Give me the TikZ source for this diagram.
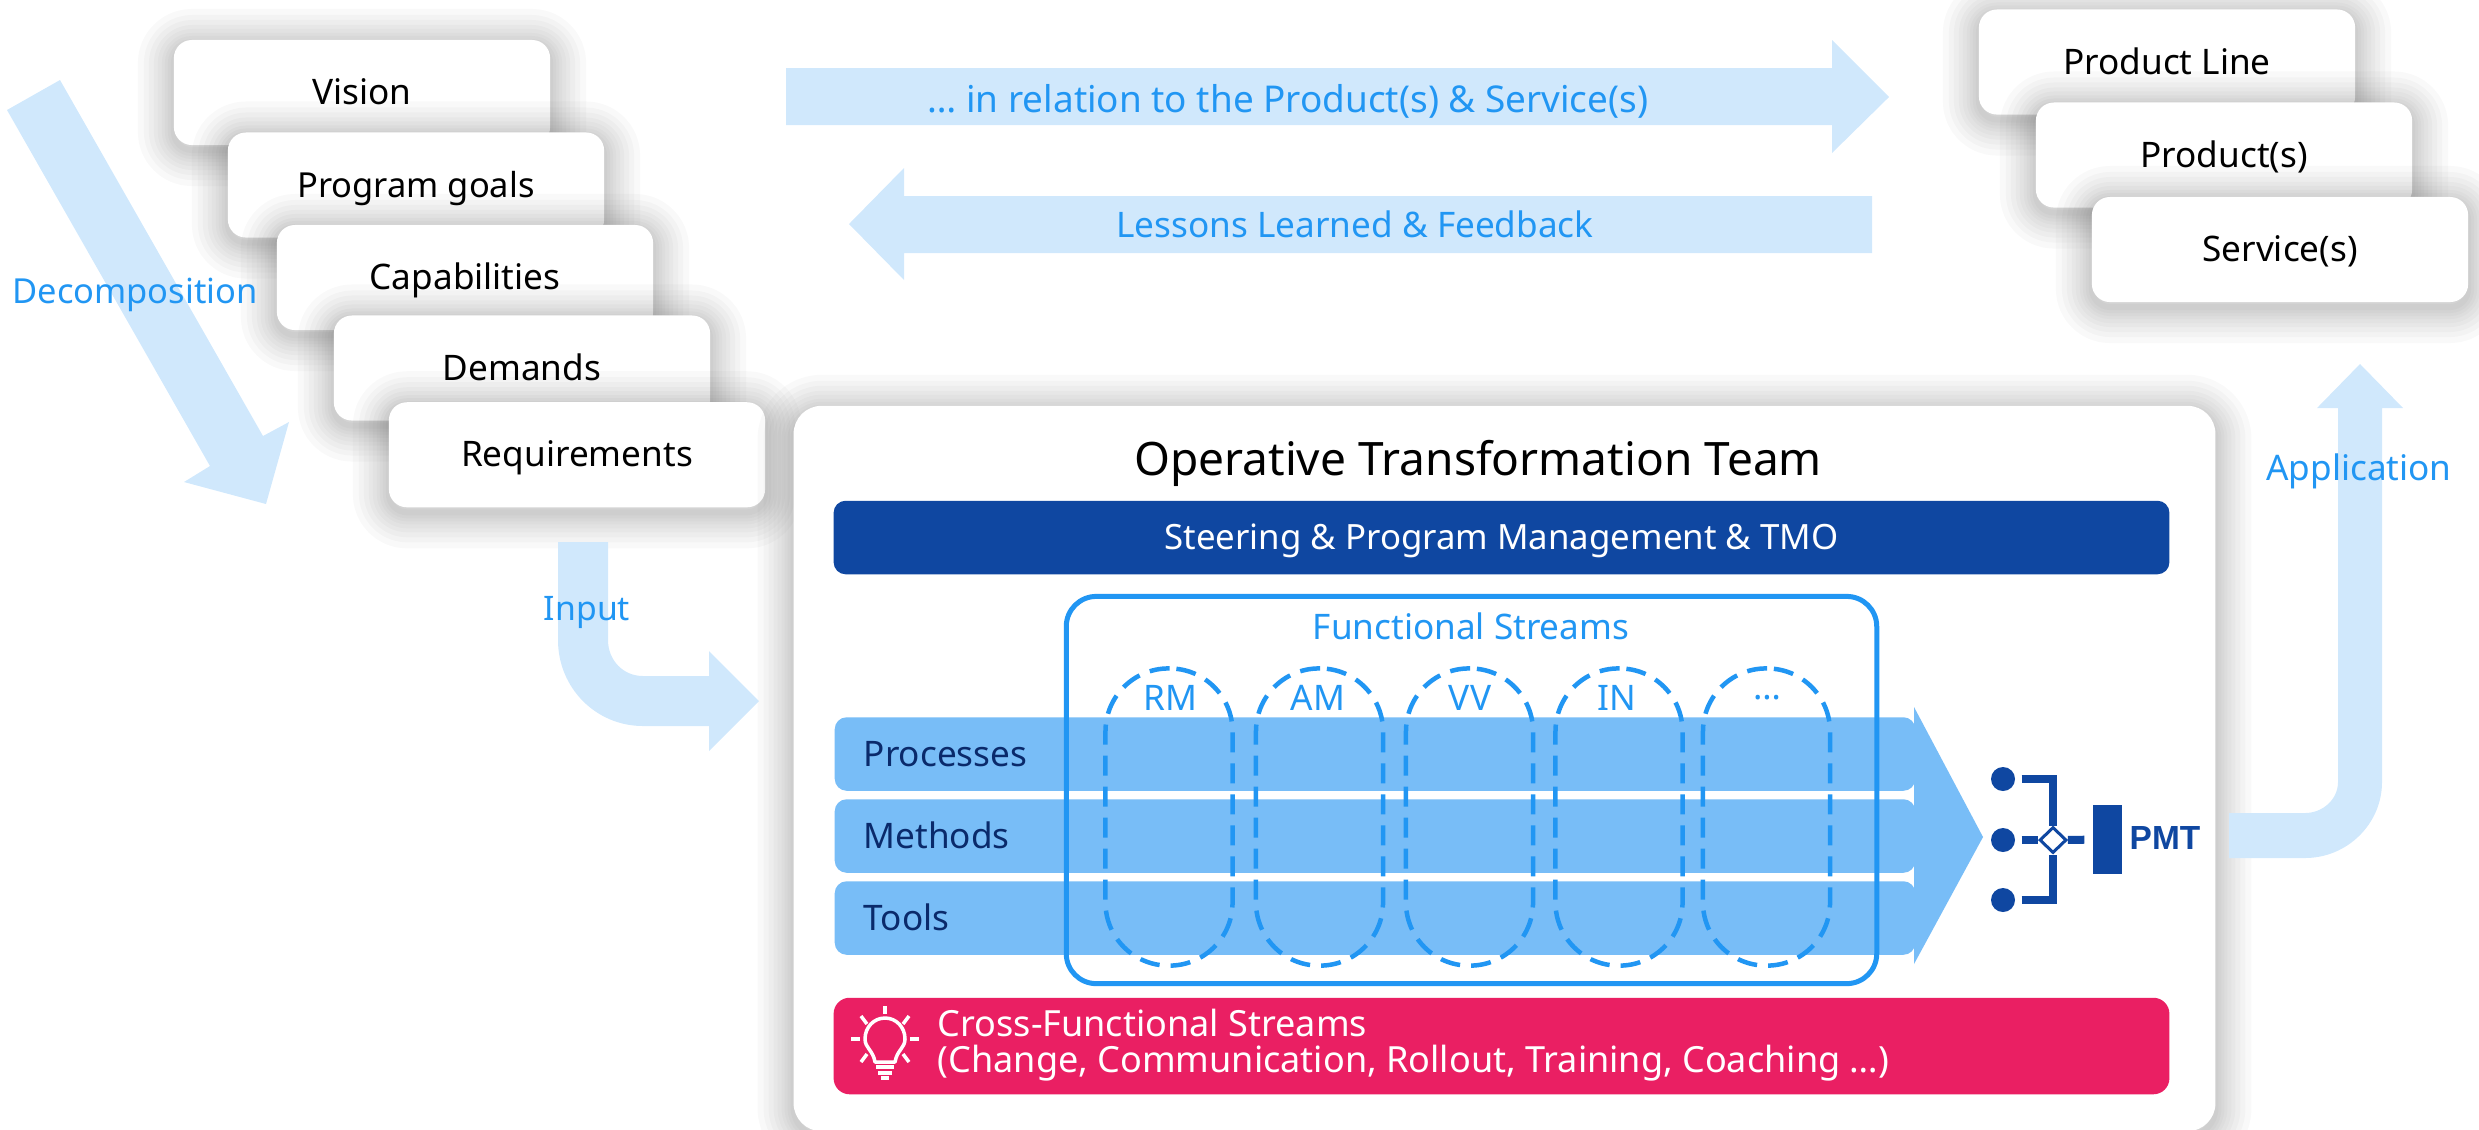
\documentclass[tikz,border=0pt]{standalone}
\usepackage{fontspec}
\setmainfont{Noto Sans}
\newfontfamily\pmtfont{Liberation Sans}
\usetikzlibrary{positioning,shapes.geometric}
\definecolor{arrowblue}{HTML}{D0E8FC}
\definecolor{bandblue}{HTML}{78BDF7}
\definecolor{linkblue}{HTML}{2196F3}
\definecolor{navyblue}{HTML}{0F47A1}
\definecolor{darkblue}{HTML}{0A2A6B}
\definecolor{signalpink}{HTML}{EA1F63}
\begin{document}
\begin{tikzpicture}[x=0.01cm,y=-0.01cm,
  shadowlayer/.style={preaction={draw=black,draw opacity=0.025,line width=#1,line join=round,transform canvas={yshift=-0.05cm}}},
  softbox/.style={shadowlayer=0.72cm,shadowlayer=0.60cm,shadowlayer=0.50cm,shadowlayer=0.40cm,shadowlayer=0.32cm,shadowlayer=0.24cm,shadowlayer=0.18cm,shadowlayer=0.12cm,shadowlayer=0.06cm},
  stackbox/.style={softbox,fill=white,rounded corners=0.18cm,minimum width=3.76cm,minimum height=1.05cm,inner sep=0pt,text height=0.24cm,text depth=0pt,font=\fontsize{10}{12}\selectfont},
  bigarrow/.style={fill=arrowblue},
  arrowtext/.style={text=linkblue,inner sep=0pt,font=\fontsize{10}{12}\selectfont},
  band/.style={fill=bandblue,rounded corners=0.12cm,minimum width=10.80cm,minimum height=0.735cm,inner xsep=0.29cm,inner ysep=0pt,text width=10.22cm,text height=0.24cm,text depth=0pt,text=darkblue,anchor=west,font=\fontsize{10}{12}\selectfont},
  streamoval/.style={draw=linkblue,line width=0.045cm,dash pattern=on 0.2cm off 0.11cm,rounded corners=0.63cm,minimum width=1.27cm,minimum height=2.97cm,inner sep=0pt},
  streamtext/.style={text=linkblue,inner sep=0pt,font=\fontsize{10}{12}\selectfont},
  pmtdot/.style={circle,fill=navyblue,minimum size=0.24cm,inner sep=0pt},
  pmtline/.style={draw=navyblue,line width=0.08cm},
  lampline/.style={draw=white,line width=0.035cm}]
  \useasboundingbox (0,0) rectangle (2479,1129);

  \node[stackbox] (vision) at (362,92.5) {Vision};
  \node[stackbox,font=\fontsize{9.8}{12}\selectfont] (goals) at (416,185) {Program goals};
  \node[stackbox] (capabilities) at (465,277.5) {Capabilities};
  \node[stackbox] (demands) at (522,368) {Demands};
  \node[stackbox] (requirements) at (577,454.75) {Requirements};

  \node[stackbox] (line) at (2167,62) {Product Line};
  \node[stackbox] (product) at (2224,155) {Product(s)};
  \node[stackbox] (service) at (2280,249.5) {Service(s)};

  \node[softbox,fill=white,rounded corners=0.28cm,minimum width=14.21cm,minimum height=7.25cm,inner sep=0pt] (panel) at (1504.5,768.5) {};

  \fill[bigarrow] (60,80) -- (263,436) -- (289,422) -- (266,504) -- (184,482) -- (210,466) -- (7,110) -- cycle;
  \fill[bigarrow] (786,68) -- (1832,68) -- (1832,40) -- (1889,97) -- (1832,153) -- (1832,125) -- (786,125) -- cycle;
  \fill[bigarrow] (1872,196) -- (904,196) -- (904,168) -- (849,224) -- (904,280) -- (904,253) -- (1872,253) -- cycle;
  \fill[bigarrow] (558,542) -- (608,542) -- (608,640) .. controls (608,660) and (623,676) .. (643,676) -- (709,676) -- (709,651) -- (759,701) -- (709,751) -- (709,726) -- (643,726) .. controls (596,726) and (558,688) .. (558,640) -- cycle;
  \fill[bigarrow] (2229,813) -- (2305,813) .. controls (2323,813) and (2338,799) .. (2338,782) -- (2338,408) -- (2317,408) -- (2360,364) -- (2403,408) -- (2382,408) -- (2382,782) .. controls (2382,824) and (2347,858) .. (2305,858) -- (2229,858) -- cycle;

  \node[arrowtext,font=\fontsize{9.8}{12}\selectfont] (decomposition) at (135,295) {Decomposition};
  \node[arrowtext,font=\fontsize{9.6}{12}\selectfont] (input) at (587,612) {Input};
  \node[arrowtext] (application) at (2359,471) {Application};
  \node[arrowtext,font=\fontsize{10.5}{12}\selectfont] (relation) at (1288,101) {… in relation to the Product(s) \& Service(s)};
  \node[arrowtext] (lessons) at (1355,224) {Lessons Learned \& Feedback};

  \node[inner sep=0pt,font=\fontsize{13.1}{15}\selectfont] (title) at (1478,463) {Operative Transformation Team};
  \node[fill=navyblue,rounded corners=0.12cm,minimum width=13.35cm,minimum height=0.735cm,inner sep=0pt,text height=0.24cm,text depth=0pt,text=white,font=\fontsize{9.9}{12}\selectfont] (steering) at (1501.5,537.5) {Steering \& Program Management \& TMO};

  \node[band] (processes) at (834,754) {Processes};
  \node[band] (methods) at (834,836) {Methods};
  \node[band] (tools) at (834,918) {Tools};
  \fill[bandblue] (1914,707) -- (1983,837) -- (1914,964) -- cycle;

  \node[draw=linkblue,line width=0.05cm,rounded corners=0.3cm,minimum width=8.10cm,minimum height=3.87cm,inner sep=0pt] (functional) at (1471.5,790) {};
  \node[streamtext] (streams) at (1471,626) {Functional Streams};
  \node[streamoval] (rmoval) at (1169,817) {};
  \node[streamoval] (amoval) at (1319.5,817) {};
  \node[streamoval] (vvoval) at (1469.5,817) {};
  \node[streamoval] (inoval) at (1619,817) {};
  \node[streamoval] (moreoval) at (1766.5,817) {};
  \node[streamtext] (rm) at (1170,698) {RM};
  \node[streamtext] (am) at (1318,698) {AM};
  \node[streamtext] (vv) at (1470,698) {VV};
  \node[streamtext] (in) at (1617,698) {IN};
  \node[streamtext] (more) at (1767,698) {…};

  \node[fill=signalpink,rounded corners=0.16cm,minimum width=13.35cm,minimum height=0.965cm,inner sep=0pt] (cross) at (1501.5,1046) {};
  \node[anchor=west,align=left,inner sep=0pt,text=white,font=\fontsize{10.25}{10.3}\selectfont] (crosstext) at (937,1045) {Cross-Functional Streams\\(Change, Communication, Rollout, Training, Coaching …)};
  \draw[lampline,line join=round] (875,1062) .. controls (873,1050) and (865,1048) .. (865,1039) .. controls (865,1027) and (874,1018) .. (885,1018) .. controls (896,1018) and (905,1027) .. (905,1039) .. controls (905,1048) and (897,1050) .. (895,1062) -- cycle;
  \draw[lampline] (876,1067) -- (894,1067);
  \draw[lampline] (878,1073) -- (892,1073);
  \draw[lampline] (881,1078) -- (889,1078);
  \draw[lampline] (885,1006) -- (885,1014);
  \draw[lampline] (851,1039) -- (860,1039);
  \draw[lampline] (910,1039) -- (919,1039);
  \draw[lampline] (861,1016) -- (867,1024);
  \draw[lampline] (909,1016) -- (903,1024);
  \draw[lampline] (861,1062) -- (867,1054);
  \draw[lampline] (909,1062) -- (903,1054);

  \node[pmtdot] (dottop) at (2003,779) {};
  \node[pmtdot] (dotmid) at (2003,840) {};
  \node[pmtdot] (dotlow) at (2003,900) {};
  \node[diamond,draw=navyblue,line width=0.03cm,fill=white,minimum width=0.27cm,minimum height=0.26cm,inner sep=0pt] (joint) at (2053,840) {};
  \node[fill=navyblue,minimum width=0.29cm,minimum height=0.69cm,inner sep=0pt] (pmtbar) at (2107.5,839.5) {};
  \node[anchor=west,inner sep=0pt,text=navyblue,font=\pmtfont\fontsize{9.5}{12}\selectfont\bfseries] (pmt) at (2129,838) {PMT};
  \draw[pmtline,shorten <=0.06cm] (dottop) -| (joint);
  \draw[pmtline,shorten <=0.06cm] (dotlow) -| (joint);
  \draw[pmtline,shorten <=0.06cm] (dotmid) -- (joint);
  \draw[pmtline,shorten >=0.08cm] (joint) -- (pmtbar);
\end{tikzpicture}
\end{document}
